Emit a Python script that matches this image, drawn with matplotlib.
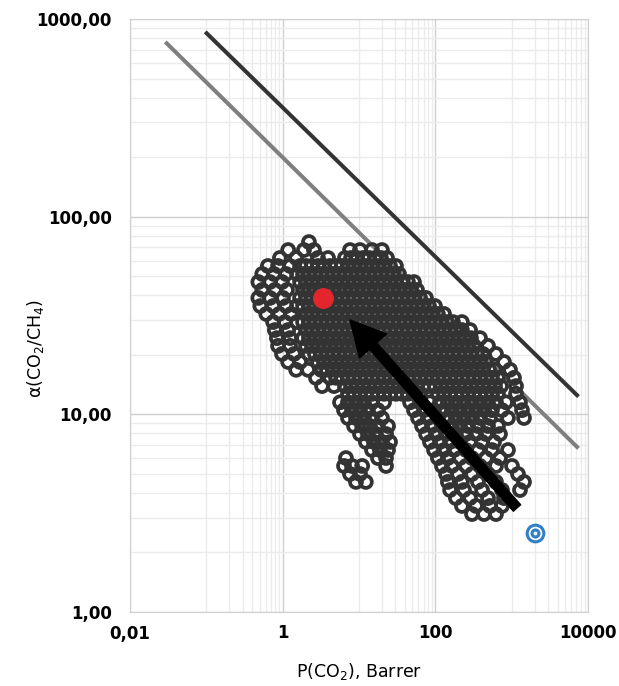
import numpy as np
import matplotlib
matplotlib.use('Agg')
import matplotlib.pyplot as plt

# eixos
x_ticks = [0.01, 1, 100, 10000]
x_tick_labels = ['0,01', '1', '100', '10000']
y_ticks = [1, 10, 100, 1000]
y_tick_labels = ['1,00', '10,00', '100,00', '1000,00']

# limites superiores (extremos das retas)
robeson_1991_P = [0.0303, 7180]
robeson_1991_alpha = [753, 6.84]
robeson_2008_P = [0.101, 7180]
robeson_2008_alpha = [847, 12.5]

# membranas - P(CO2) em Barrer
P_cloud = [
    2.21,
    1.18, 1.90, 2.57, 7.62, 10.3, 14.8, 20.0,
    0.92, 1.50, 2.90, 3.93, 6.55, 7.86, 9.41, 11.3, 13.5, 16.2, 19.4, 23.3,
    0.64, 0.87, 1.25, 1.69, 2.02, 2.42, 2.90, 3.48, 4.17, 5.00, 5.99, 7.17, 8.60, 10.3, 12.3, 14.8, 17.7, 21.3, 25.5, 30.5,
    0.54, 0.77, 1.11, 1.54, 1.85, 2.21, 2.65, 3.18, 3.81, 4.56, 5.47, 6.55, 7.86, 9.41, 11.3, 13.5, 16.2, 19.4, 23.3, 27.9, 33.4,
    0.48, 0.68, 0.98, 1.69, 2.02, 2.42, 2.90, 3.48, 4.17, 5.00, 5.99, 7.17, 8.60, 10.3, 12.3, 14.8, 17.7, 21.3, 25.5, 30.5, 36.6, 43.8, 52.5,
    0.54, 0.79, 1.14, 1.85, 2.21, 2.65, 3.18, 3.81, 4.56, 5.47, 6.55, 7.86, 9.41, 11.3, 13.5, 16.2, 19.4, 23.3, 27.9, 33.4, 40.0, 48.0, 57.5,
    0.48, 0.68, 1.01, 1.69, 2.02, 2.42, 2.90, 3.48, 4.17, 5.00, 5.99, 7.17, 8.60, 10.3, 12.3, 14.8, 17.7, 21.3, 25.5, 30.5, 36.6, 43.8, 52.5, 63.0, 75.4,
    0.51, 0.75, 1.11, 1.54, 1.85, 2.21, 2.65, 3.18, 3.81, 4.56, 5.47, 6.55, 7.86, 9.41, 11.3, 13.5, 16.2, 19.4, 23.3, 27.9, 33.4, 40.0, 48.0, 57.5, 68.9, 82.6, 99.0,
    0.61, 0.90, 1.29, 2.02, 2.42, 2.90, 3.48, 4.17, 5.00, 5.99, 7.17, 8.60, 10.3, 12.3, 14.8, 17.7, 21.3, 25.5, 30.5, 36.6, 43.8, 52.5, 63.0, 75.4, 90.4, 108, 130,
    0.75, 1.07, 1.54, 1.85, 2.21, 2.65, 3.18, 3.81, 4.56, 5.47, 6.55, 7.86, 9.41, 11.3, 13.5, 16.2, 19.4, 23.3, 27.9, 33.4, 40.0, 48.0, 57.5, 68.9, 82.6, 99.0, 119, 142, 170, 223,
    0.79, 1.18, 2.02, 2.42, 2.90, 3.48, 4.17, 5.00, 5.99, 7.17, 8.60, 10.3, 12.3, 14.8, 17.7, 21.3, 25.5, 30.5, 36.6, 43.8, 52.5, 63.0, 75.4, 90.4, 108, 130, 156, 186, 223, 285,
    0.84, 1.25, 1.85, 2.21, 2.65, 3.18, 3.81, 4.56, 5.47, 6.55, 7.86, 9.41, 11.3, 13.5, 16.2, 19.4, 23.3, 27.9, 33.4, 40.0, 48.0, 57.5, 68.9, 82.6, 99.0, 119, 142, 170, 204, 245, 293, 385,
    0.87, 1.25, 2.02, 2.42, 2.90, 3.48, 4.17, 5.00, 5.99, 7.17, 8.60, 10.3, 12.3, 14.8, 17.7, 21.3, 25.5, 30.5, 36.6, 43.8, 52.5, 63.0, 75.4, 90.4, 108, 130, 156, 186, 223, 268, 321, 490,
    0.98, 1.41, 2.21, 2.65, 3.18, 3.81, 4.56, 5.47, 6.55, 7.86, 9.41, 11.3, 13.5, 16.2, 19.4, 23.3, 27.9, 33.4, 40.0, 48.0, 57.5, 68.9, 82.6, 99.0, 119, 142, 170, 204, 245, 293, 351, 421, 623,
    1.18, 1.69, 2.90, 3.48, 4.17, 5.00, 5.99, 7.17, 8.60, 10.3, 12.3, 14.8, 17.7, 21.3, 25.5, 30.5, 36.6, 43.8, 52.5, 63.0, 75.4, 90.4, 108, 130, 156, 186, 223, 268, 321, 385, 461, 793,
    1.50, 2.15, 3.18, 3.81, 4.56, 5.47, 6.55, 7.86, 9.41, 11.3, 13.5, 16.2, 19.4, 23.3, 27.9, 33.4, 40.0, 48.0, 57.5, 68.9, 82.6, 99.0, 119, 142, 170, 204, 245, 293, 351, 421, 505, 605, 951,
    2.73, 4.17, 5.00, 5.99, 7.17, 8.60, 10.3, 12.3, 14.8, 17.7, 21.3, 25.5, 30.5, 36.6, 43.8, 52.5, 63.0, 75.4, 90.4, 108, 130, 156, 186, 223, 268, 321, 385, 461, 552, 662, 1073,
    3.28, 4.70, 6.55, 7.86, 9.41, 11.3, 13.5, 16.2, 19.4, 23.3, 27.9, 33.4, 40.0, 48.0, 57.5, 68.9, 82.6, 99.0, 119, 142, 170, 204, 245, 293, 351, 421, 505, 605, 725, 1140,
    7.17, 8.60, 10.3, 12.3, 14.8, 17.7, 21.3, 25.5, 30.5, 36.6, 43.8, 52.5, 63.0, 108, 130, 156, 186, 223, 268, 321, 385, 461, 552, 662, 1140,
    5.64, 7.17, 9.13, 11.6, 14.8, 21.3, 46.6, 63.0, 85.1, 115, 146, 186, 237, 302, 385, 490, 623, 843, 1285,
    6.36, 8.10, 10.3, 13.1, 17.7, 52.5, 71.0, 96.0, 130, 165, 210, 268, 341, 434, 552, 747, 1365,
    7.17, 9.13, 11.6, 14.8, 20.0, 59.3, 80.1, 108, 146, 186, 237, 302, 385, 520, 895, 1451,
    8.60, 11.0, 13.9, 17.7, 24.0, 66.9, 90.4, 122, 165, 210, 268, 362, 490, 662,
    10.3, 13.1, 16.7, 22.6, 75.5, 102, 138, 186, 252, 341, 461, 703,
    12.3, 15.7, 20.0, 25.5, 85.1, 115, 156, 210, 285, 409, 587,
    14.8, 18.8, 24.0, 96.0, 130, 176, 252, 362, 552, 895,
    6.75, 17.7, 22.6, 108, 146, 210, 302, 461, 703,
    6.36, 8.10, 11.0, 22.6, 122, 165, 252, 385, 623, 1010,
    7.62, 10.3, 138, 198, 302, 490, 1210,
    9.13, 12.3, 146, 223, 362, 623, 1451,
    156, 237, 409, 747, 1285,
    186, 285, 490, 793,
    223, 341, 520, 747,
    302, 434, 623,
]

# seletividade alfa(CO2/CH4)
alpha_cloud = [
    74.4,
    67.8, 67.8, 67.8, 67.8, 67.8, 67.8, 67.8,
    61.8, 61.8, 61.8, 61.8, 61.8, 61.8, 61.8, 61.8, 61.8, 61.8, 61.8, 61.8,
    56.3, 56.3, 56.3, 56.3, 56.3, 56.3, 56.3, 56.3, 56.3, 56.3, 56.3, 56.3, 56.3, 56.3, 56.3, 56.3, 56.3, 56.3, 56.3, 56.3,
    51.3, 51.3, 51.3, 51.3, 51.3, 51.3, 51.3, 51.3, 51.3, 51.3, 51.3, 51.3, 51.3, 51.3, 51.3, 51.3, 51.3, 51.3, 51.3, 51.3, 51.3,
    46.7, 46.7, 46.7, 46.7, 46.7, 46.7, 46.7, 46.7, 46.7, 46.7, 46.7, 46.7, 46.7, 46.7, 46.7, 46.7, 46.7, 46.7, 46.7, 46.7, 46.7, 46.7, 46.7,
    42.6, 42.6, 42.6, 42.6, 42.6, 42.6, 42.6, 42.6, 42.6, 42.6, 42.6, 42.6, 42.6, 42.6, 42.6, 42.6, 42.6, 42.6, 42.6, 42.6, 42.6, 42.6, 42.6,
    38.8, 38.8, 38.8, 38.8, 38.8, 38.8, 38.8, 38.8, 38.8, 38.8, 38.8, 38.8, 38.8, 38.8, 38.8, 38.8, 38.8, 38.8, 38.8, 38.8, 38.8, 38.8, 38.8, 38.8, 38.8,
    35.3, 35.3, 35.3, 35.3, 35.3, 35.3, 35.3, 35.3, 35.3, 35.3, 35.3, 35.3, 35.3, 35.3, 35.3, 35.3, 35.3, 35.3, 35.3, 35.3, 35.3, 35.3, 35.3, 35.3, 35.3, 35.3, 35.3,
    32.2, 32.2, 32.2, 32.2, 32.2, 32.2, 32.2, 32.2, 32.2, 32.2, 32.2, 32.2, 32.2, 32.2, 32.2, 32.2, 32.2, 32.2, 32.2, 32.2, 32.2, 32.2, 32.2, 32.2, 32.2, 32.2, 32.2,
    29.3, 29.3, 29.3, 29.3, 29.3, 29.3, 29.3, 29.3, 29.3, 29.3, 29.3, 29.3, 29.3, 29.3, 29.3, 29.3, 29.3, 29.3, 29.3, 29.3, 29.3, 29.3, 29.3, 29.3, 29.3, 29.3, 29.3, 29.3, 29.3, 29.3,
    26.7, 26.7, 26.7, 26.7, 26.7, 26.7, 26.7, 26.7, 26.7, 26.7, 26.7, 26.7, 26.7, 26.7, 26.7, 26.7, 26.7, 26.7, 26.7, 26.7, 26.7, 26.7, 26.7, 26.7, 26.7, 26.7, 26.7, 26.7, 26.7, 26.7,
    24.3, 24.3, 24.3, 24.3, 24.3, 24.3, 24.3, 24.3, 24.3, 24.3, 24.3, 24.3, 24.3, 24.3, 24.3, 24.3, 24.3, 24.3, 24.3, 24.3, 24.3, 24.3, 24.3, 24.3, 24.3, 24.3, 24.3, 24.3, 24.3, 24.3, 24.3, 24.3,
    22.2, 22.2, 22.2, 22.2, 22.2, 22.2, 22.2, 22.2, 22.2, 22.2, 22.2, 22.2, 22.2, 22.2, 22.2, 22.2, 22.2, 22.2, 22.2, 22.2, 22.2, 22.2, 22.2, 22.2, 22.2, 22.2, 22.2, 22.2, 22.2, 22.2, 22.2, 22.2,
    20.2, 20.2, 20.2, 20.2, 20.2, 20.2, 20.2, 20.2, 20.2, 20.2, 20.2, 20.2, 20.2, 20.2, 20.2, 20.2, 20.2, 20.2, 20.2, 20.2, 20.2, 20.2, 20.2, 20.2, 20.2, 20.2, 20.2, 20.2, 20.2, 20.2, 20.2, 20.2, 20.2,
    18.4, 18.4, 18.4, 18.4, 18.4, 18.4, 18.4, 18.4, 18.4, 18.4, 18.4, 18.4, 18.4, 18.4, 18.4, 18.4, 18.4, 18.4, 18.4, 18.4, 18.4, 18.4, 18.4, 18.4, 18.4, 18.4, 18.4, 18.4, 18.4, 18.4, 18.4, 18.4,
    16.8, 16.8, 16.8, 16.8, 16.8, 16.8, 16.8, 16.8, 16.8, 16.8, 16.8, 16.8, 16.8, 16.8, 16.8, 16.8, 16.8, 16.8, 16.8, 16.8, 16.8, 16.8, 16.8, 16.8, 16.8, 16.8, 16.8, 16.8, 16.8, 16.8, 16.8, 16.8, 16.8,
    15.3, 15.3, 15.3, 15.3, 15.3, 15.3, 15.3, 15.3, 15.3, 15.3, 15.3, 15.3, 15.3, 15.3, 15.3, 15.3, 15.3, 15.3, 15.3, 15.3, 15.3, 15.3, 15.3, 15.3, 15.3, 15.3, 15.3, 15.3, 15.3, 15.3, 15.3,
    13.9, 13.9, 13.9, 13.9, 13.9, 13.9, 13.9, 13.9, 13.9, 13.9, 13.9, 13.9, 13.9, 13.9, 13.9, 13.9, 13.9, 13.9, 13.9, 13.9, 13.9, 13.9, 13.9, 13.9, 13.9, 13.9, 13.9, 13.9, 13.9, 13.9,
    12.7, 12.7, 12.7, 12.7, 12.7, 12.7, 12.7, 12.7, 12.7, 12.7, 12.7, 12.7, 12.7, 12.7, 12.7, 12.7, 12.7, 12.7, 12.7, 12.7, 12.7, 12.7, 12.7, 12.7, 12.7,
    11.5, 11.5, 11.5, 11.5, 11.5, 11.5, 11.5, 11.5, 11.5, 11.5, 11.5, 11.5, 11.5, 11.5, 11.5, 11.5, 11.5, 11.5, 11.5,
    10.5, 10.5, 10.5, 10.5, 10.5, 10.5, 10.5, 10.5, 10.5, 10.5, 10.5, 10.5, 10.5, 10.5, 10.5, 10.5, 10.5,
    9.58, 9.58, 9.58, 9.58, 9.58, 9.58, 9.58, 9.58, 9.58, 9.58, 9.58, 9.58, 9.58, 9.58, 9.58, 9.58,
    8.73, 8.73, 8.73, 8.73, 8.73, 8.73, 8.73, 8.73, 8.73, 8.73, 8.73, 8.73, 8.73, 8.73,
    7.95, 7.95, 7.95, 7.95, 7.95, 7.95, 7.95, 7.95, 7.95, 7.95, 7.95, 7.95,
    7.25, 7.25, 7.25, 7.25, 7.25, 7.25, 7.25, 7.25, 7.25, 7.25, 7.25,
    6.60, 6.60, 6.60, 6.60, 6.60, 6.60, 6.60, 6.60, 6.60, 6.60,
    6.01, 6.01, 6.01, 6.01, 6.01, 6.01, 6.01, 6.01, 6.01,
    5.48, 5.48, 5.48, 5.48, 5.48, 5.48, 5.48, 5.48, 5.48, 5.48,
    4.99, 4.99, 4.99, 4.99, 4.99, 4.99, 4.99,
    4.55, 4.55, 4.55, 4.55, 4.55, 4.55, 4.55,
    4.14, 4.14, 4.14, 4.14, 4.14,
    3.77, 3.77, 3.77, 3.77,
    3.44, 3.44, 3.44, 3.44,
    3.13, 3.13, 3.13,
]

# pontos destacados e seta
red_P, red_alpha = 3.40, 38.6
blue_P, blue_alpha = 2024, 2.50
arrow_start = (1175, 3.36)
arrow_end = (7.62, 30.0)

fig = plt.figure(figsize=(6.19, 6.86), dpi=100)
ax = fig.add_axes([130 / 619, 1 - 612 / 686, 458 / 619, 593 / 686])
ax.set_xscale('log')
ax.set_yscale('log')
ax.set_xlim(0.01, 10000)
ax.set_ylim(1, 1000)

# grade no estilo do Excel
x_minor = [k * 10.0 ** e for e in (-1, 1, 3) for k in range(1, 10)]
y_minor = [k * 10.0 ** e for e in (0, 1, 2) for k in range(2, 10)]
ax.set_xticks(x_minor, minor=True)
ax.set_yticks(y_minor, minor=True)
ax.set_xticks(x_ticks, labels=x_tick_labels, fontweight='bold', fontsize=12)
ax.set_yticks(y_ticks, labels=y_tick_labels, fontweight='bold', fontsize=12)
ax.xaxis.set_minor_formatter(plt.NullFormatter())
ax.yaxis.set_minor_formatter(plt.NullFormatter())
ax.tick_params(which='both', length=0)
ax.tick_params(axis='x', pad=9)
ax.tick_params(axis='y', pad=13)
ax.grid(which='major', color='#d0d0d0', lw=1)
ax.grid(which='minor', color='#ebebeb', lw=1)
ax.set_axisbelow(True)
for s in ax.spines.values():
    s.set_color('#d0d0d0')

ax.plot(robeson_1991_P, robeson_1991_alpha, color='#7f7f7f', lw=2.9, zorder=2)
ax.plot(robeson_2008_P, robeson_2008_alpha, color='#333333', lw=2.9, zorder=2)

# circulos abertos das membranas
ax.scatter(P_cloud, alpha_cloud, s=74, facecolors='none', edgecolors='#333333',
           linewidths=2.7, zorder=3)

ax.annotate('', xy=arrow_end, xytext=arrow_start,
            arrowprops=dict(facecolor='black', edgecolor='black', width=7,
                            headwidth=26, headlength=25, shrink=0), zorder=4)

ax.plot(red_P, red_alpha, 'o', ms=14, color='#e3262b', zorder=5)
ax.plot(blue_P, blue_alpha, 'o', ms=12, mfc='none', mec='#2f7fc9', mew=2.2, zorder=5)
ax.plot(blue_P, blue_alpha, 'o', ms=5, mfc='none', mec='#2f7fc9', mew=2.2, zorder=5)

ax.set_xlabel('P(CO$_2$), Barrer', fontsize=12.5, va='center')
ax.xaxis.set_label_coords(0.5, -0.101)
ax.set_ylabel('α(CO$_2$/CH$_4$)', fontsize=12.5, va='center')
ax.yaxis.set_label_coords(-0.207, 0.445)

fig.savefig('out.png', dpi=100)
